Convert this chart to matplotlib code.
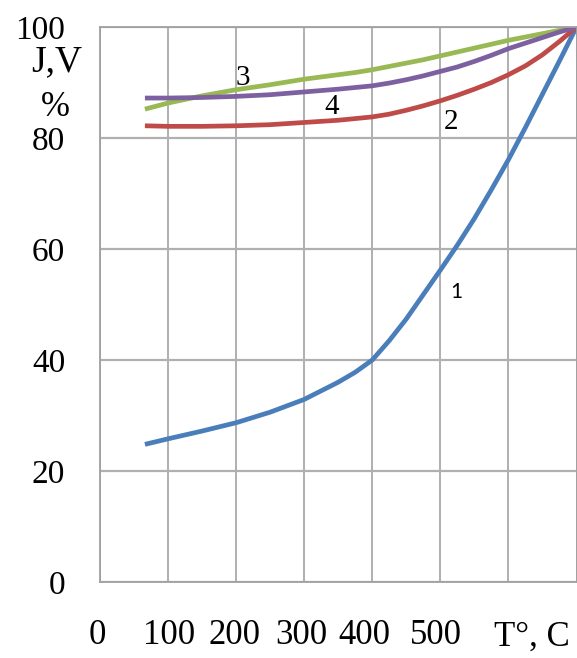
import matplotlib
matplotlib.use("Agg")
from matplotlib import pyplot as plt

# temperature, deg C
temp = [66, 100, 150, 200, 250, 300, 350, 375, 400, 425, 450, 475, 500,
        525, 550, 575, 600, 625, 650, 675, 700]
# curves, %
curve1 = [24.8, 25.8, 27.2, 28.7, 30.6, 32.9, 36.0, 37.8, 40.0, 43.5, 47.4,
          51.8, 56.2, 60.7, 65.5, 70.7, 76.1, 81.9, 87.9, 93.9, 100]
curve2 = [82.2, 82.1, 82.1, 82.2, 82.4, 82.8, 83.2, 83.5, 83.8, 84.3, 85.0,
          85.8, 86.7, 87.7, 88.8, 90.0, 91.4, 93.0, 95.0, 97.4, 100]
curve3 = [85.2, 86.3, 87.6, 88.7, 89.6, 90.6, 91.4, 91.8, 92.3, 92.9, 93.5,
          94.1, 94.8, 95.5, 96.2, 96.9, 97.6, 98.2, 98.8, 99.4, 100]
curve4 = [87.2, 87.2, 87.3, 87.5, 87.8, 88.3, 88.8, 89.1, 89.4, 89.9, 90.5,
          91.2, 92.0, 92.8, 93.8, 94.9, 96.1, 97.1, 98.1, 99.1, 100]

y_ticks = [0, 20, 40, 60, 80, 100]
x_tick_labels = ["0", "100", "200", "300", "400", "500"]
x_label_pos = [-4, 102, 197, 296, 388, 494]

W, H = 577, 658
fig = plt.figure(figsize=(W / 100, H / 100), dpi=100)
ax = fig.add_axes([100 / W, 1 - 582 / H, 476.5 / W, 555 / H])

serif = "Liberation Serif"

ax.plot(temp, curve1, color="#4a7ebb", lw=3.4, solid_capstyle="butt")
ax.plot(temp, curve2, color="#be4b48", lw=3.4, solid_capstyle="butt")
ax.plot(temp, curve3, color="#98b954", lw=3.4, solid_capstyle="butt")
ax.plot(temp, curve4, color="#7d60a0", lw=3.4, solid_capstyle="butt")

ax.set_xlim(0, 700)
ax.set_ylim(0, 100)
ax.set_xticks(range(0, 701, 100))
ax.set_yticks(y_ticks)
ax.set_xticklabels([])
ax.set_yticklabels([str(v) for v in y_ticks], fontfamily=serif, fontsize=24)
ax.tick_params(length=0, pad=25)
ax.grid(axis="x", color="#9a9a9a", lw=1.1)
ax.grid(axis="y", color="#b0b0b0", lw=1.6)
ax.set_axisbelow(True)
for s in ax.spines.values():
    s.set_color("#a0a0a0")
    s.set_linewidth(1.3)

# x labels sit off the grid in the original
for xp, lab in zip(x_label_pos, x_tick_labels):
    ax.text(xp, -9.7, lab, ha="center", va="center", fontfamily=serif,
            fontsize=25, clip_on=False)
ax.text(634, -9.9, "T°, C", ha="center", va="center", fontfamily=serif,
        fontsize=25, clip_on=False)

fig.text(57 / W, 1 - 62 / H, "J,V", ha="center", va="center",
         fontfamily=serif, fontsize=27)
fig.text(55 / W, 1 - 107 / H, "%", ha="center", va="center",
         fontfamily=serif, fontsize=25)

# curve numbers
ax.text(210, 90.8, "3", ha="center", va="center", fontfamily=serif, fontsize=21)
ax.text(340, 85.6, "4", ha="center", va="center", fontfamily=serif, fontsize=21)
ax.text(516, 82.9, "2", ha="center", va="center", fontfamily=serif, fontsize=21)
ax.text(524, 52.2, "1", ha="center", va="center", fontfamily="Lato", fontsize=15)

fig.savefig("out.png", dpi=100)
